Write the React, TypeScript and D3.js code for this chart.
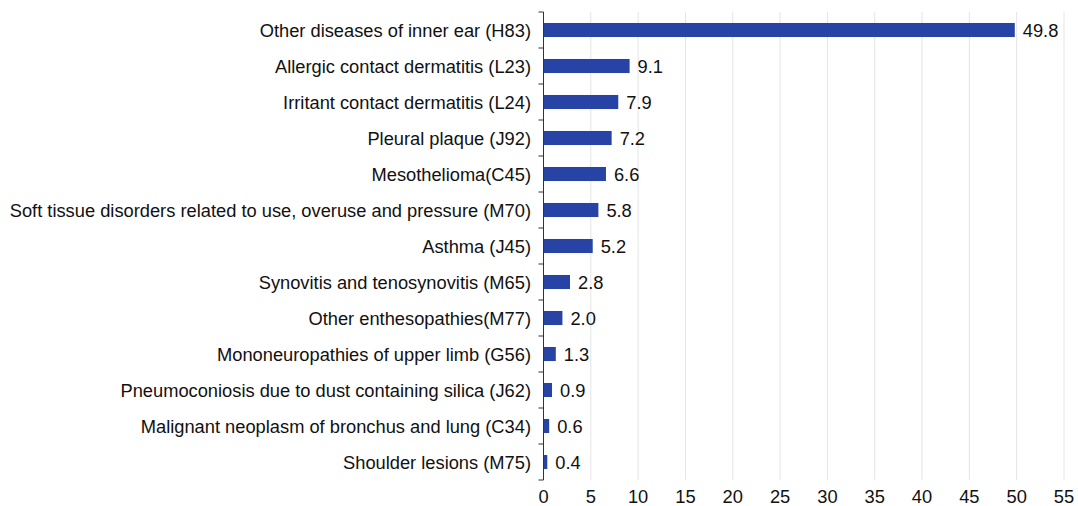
import React from "react";
import * as d3 from "d3";

const categories = [
  "Other diseases of inner ear (H83)",
  "Allergic contact dermatitis (L23)",
  "Irritant contact dermatitis (L24)",
  "Pleural plaque (J92)",
  "Mesothelioma(C45)",
  "Soft tissue disorders related to use, overuse and pressure (M70)",
  "Asthma (J45)",
  "Synovitis and tenosynovitis (M65)",
  "Other enthesopathies(M77)",
  "Mononeuropathies of upper limb (G56)",
  "Pneumoconiosis due to dust containing silica (J62)",
  "Malignant neoplasm of bronchus and lung (C34)",
  "Shoulder lesions (M75)",
];
const values = [49.8, 9.1, 7.9, 7.2, 6.6, 5.8, 5.2, 2.8, 2.0, 1.3, 0.9, 0.6, 0.4];
const xTicks = [0, 5, 10, 15, 20, 25, 30, 35, 40, 45, 50, 55];

const W = 1078, H = 506;
const left = 543.5, right = 1064, top = 12, bottom = 480;

export default function App() {
  const x = d3.scaleLinear().domain([0, 55]).range([left, right]);
  const y = d3.scaleBand<string>().domain(categories).range([top, bottom]).paddingInner(0.61).paddingOuter(0.305);
  const band = d3.scaleBand<string>().domain(categories).range([top, bottom]);
  const font = "Liberation Sans, Arial, sans-serif";
  const fs = 18.3;
  return (
    <svg width={W} height={H} style={{ position: "absolute", left: 0, top: 0 }} fontFamily={font}>
      <rect width={W} height={H} fill="#fff" />
      {xTicks.slice(1).map((t) => (
        <line key={t} x1={x(t)} x2={x(t)} y1={top} y2={bottom} stroke="#e4e4e4" strokeWidth={1} />
      ))}
      {categories.map((c, i) => (
        <g key={c}>
          <rect x={x(0)} y={y(c)!} width={x(values[i]) - x(0)} height={y.bandwidth()} fill="#2743a6" />
          <text x={x(values[i]) + 8} y={y(c)! + y.bandwidth() / 2} dy="0.36em" fontSize={fs} fill="#111">
            {values[i].toFixed(1)}
          </text>
          <text x={531} y={band(c)! + band.bandwidth() / 2} dy="0.36em" fontSize={fs} textAnchor="end" fill="#111">
            {c}
          </text>
        </g>
      ))}
      <line x1={left} x2={left} y1={top} y2={bottom} stroke="#333" strokeWidth={1} />
      {d3.range(categories.length + 1).map((i) => {
        const yy = top + i * band.step();
        return <line key={i} x1={left - 5} x2={left} y1={yy} y2={yy} stroke="#333" strokeWidth={1} />;
      })}
      {xTicks.map((t) => (
        <text key={t} x={x(t)} y={502.5} fontSize={fs} textAnchor="middle" fill="#111">
          {t}
        </text>
      ))}
    </svg>
  );
}
